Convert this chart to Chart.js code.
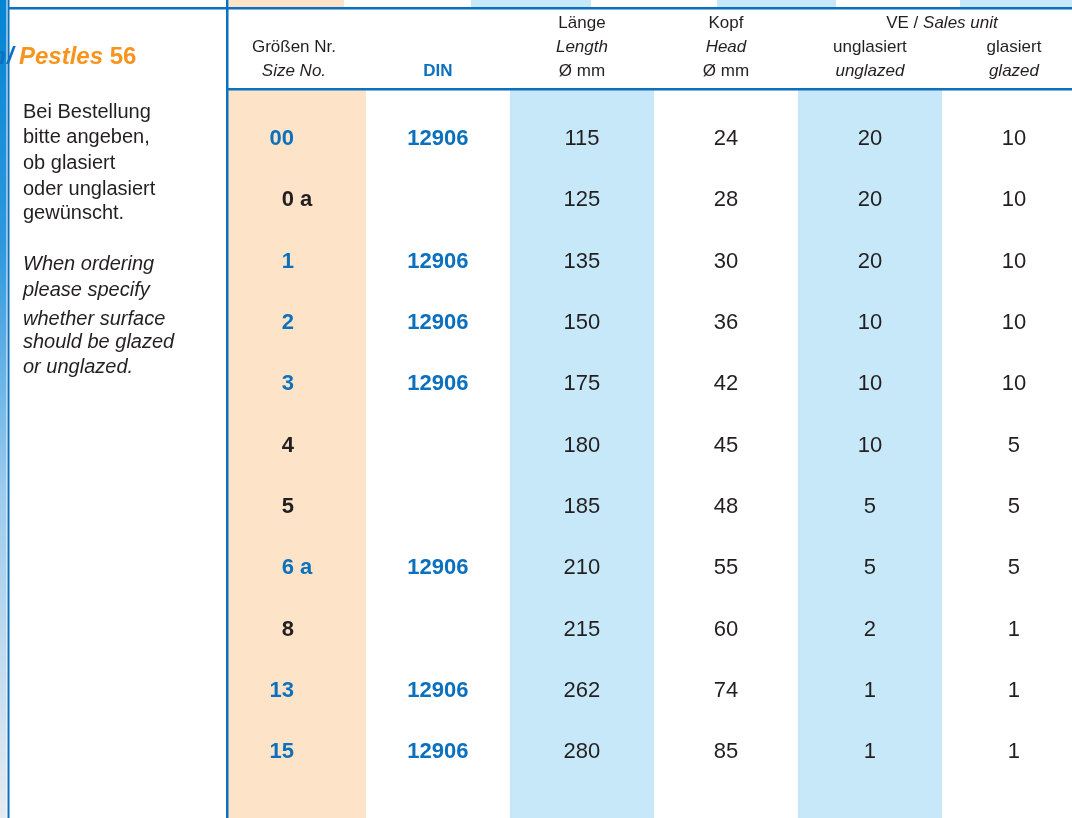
<!DOCTYPE html>
<html lang="de">
<head>
<meta charset="utf-8">
<title>Pestles 56</title>
<script src="https://cdn.jsdelivr.net/npm/chart.js@4.4.1/dist/chart.umd.min.js"></script>
<style>
  html, body { margin: 0; padding: 0; background: #fff; overflow: hidden; }
  canvas { display: block; }
</style>
</head>
<body>
<canvas id="tabelle" width="1072" height="818"></canvas>
<script>
// Zeilen der Tabelle
const groessen = ["00", "0 a", "1", "2", "3", "4", "5", "6 a", "8", "13", "15"];
const din = ["12906", "", "12906", "12906", "12906", "", "", "12906", "", "12906", "12906"];
const laenge = [115, 125, 135, 150, 175, 180, 185, 210, 215, 262, 280];
const kopf = [24, 28, 30, 36, 42, 45, 48, 55, 60, 74, 85];
const unglasiert = [20, 20, 20, 10, 10, 10, 5, 5, 2, 1, 1];
const glasiert = [10, 10, 10, 10, 10, 5, 5, 5, 1, 1, 1];

const spalten = [groessen, din, laenge, kopf, unglasiert, glasiert];

// Kopfzeilen je Spalte: [Text, kursiv?]
const kopfGroesse = [["Größen Nr.", false], ["Size No.", true]];
const kopfLaenge = [["Länge", false], ["Length", true], ["Ø mm", false]];
const kopfKopf = [["Kopf", false], ["Head", true], ["Ø mm", false]];
const kopfUnglasiert = [["unglasiert", false], ["unglazed", true]];
const kopfGlasiert = [["glasiert", false], ["glazed", true]];

const BLAU = '#0b70bd';
const TEXT = '#231f20';
const ORANGE = '#f7941d';
const PFIRSICH = '#fde4c8';
const HELLBLAU = '#c7e8f8';
const SCHRIFT = '"Liberation Sans", Arial, Helvetica, sans-serif';

// farbige Spalten im Tabellenkörper
const streifen = [[0, PFIRSICH], [2, HELLBLAU], [4, HELLBLAU]];

const tabellePlugin = {
  id: 'tabelle',
  beforeDatasetsDraw(chart) {
    const { ctx, chartArea: a, scales: { x } } = chart;
    ctx.save();
    streifen.forEach(([s, farbe]) => {
      const l = Math.max(a.left, x.getPixelForValue(s - 0.5));
      const r = Math.min(a.right, x.getPixelForValue(s + 0.5));
      ctx.fillStyle = farbe;
      ctx.fillRect(l, a.top, r - l, a.bottom - a.top);
    });
    ctx.restore();
  },
  afterDatasetsDraw(chart) {
    const ctx = chart.ctx;
    ctx.save();
    ctx.textBaseline = 'middle';
    chart.data.datasets.forEach((ds, i) => {
      const meta = chart.getDatasetMeta(i);
      meta.data.forEach((pt, r) => {
        const t = ds.texte[r];
        if (!t) return;
        if (i === 0) {
          // Nummer rechtsbündig an der Spaltenmitte, Zusatz dahinter
          ctx.font = 'bold 22px ' + SCHRIFT;
          ctx.fillStyle = din[r] ? BLAU : TEXT;
          const teile = t.split(' ');
          ctx.textAlign = 'right';
          ctx.fillText(teile[0], pt.x, pt.y);
          if (teile[1]) {
            ctx.textAlign = 'left';
            ctx.fillText(' ' + teile[1], pt.x, pt.y);
          }
        } else if (i === 1) {
          ctx.font = 'bold 22px ' + SCHRIFT;
          ctx.fillStyle = BLAU;
          ctx.textAlign = 'center';
          ctx.fillText(t, pt.x, pt.y);
        } else {
          ctx.font = '22px ' + SCHRIFT;
          ctx.fillStyle = TEXT;
          ctx.textAlign = 'center';
          ctx.fillText(t, pt.x, pt.y);
        }
      });
    });
    ctx.restore();
  },
  afterDraw(chart) {
    const { ctx, chartArea: a, scales: { x } } = chart;
    const W = chart.width, H = chart.height;
    ctx.save();

    // Reste der Tabelle darüber
    [[229, 344, PFIRSICH], [471, 591, HELLBLAU], [717, 836, HELLBLAU], [960, 1072, HELLBLAU]].forEach(([l, r, f]) => {
      ctx.fillStyle = f;
      ctx.fillRect(l, 0, r - l, 7);
    });

    // linker Rand
    const g = ctx.createLinearGradient(0, 0, 0, H);
    g.addColorStop(0, '#0484d2');
    g.addColorStop(0.3, '#2e98de');
    g.addColorStop(0.6, '#9ccbee');
    g.addColorStop(1, '#e6ebf1');
    ctx.fillStyle = g;
    ctx.fillRect(0, 0, 6.5, H);

    // Linien
    ctx.fillStyle = BLAU;
    ctx.fillRect(7.5, 0, 2, H);
    ctx.fillRect(226, 0, 2.5, H);
    ctx.fillRect(8, 7, W - 8, 2.5);
    ctx.fillRect(226, 88, W - 226, 2.5);

    // Kopfzeile
    ctx.textBaseline = 'middle';
    ctx.textAlign = 'center';
    const zeilenY = [23, 47, 71];
    const kopfText = (zeilen, s, start) => {
      const cx = x.getPixelForValue(s);
      zeilen.forEach(([t, kursiv], k) => {
        ctx.font = (kursiv ? 'italic ' : '') + '17px ' + SCHRIFT;
        ctx.fillStyle = TEXT;
        ctx.fillText(t, cx, zeilenY[start + k]);
      });
    };
    kopfText(kopfGroesse, 0, 1);
    kopfText(kopfLaenge, 2, 0);
    kopfText(kopfKopf, 3, 0);
    kopfText(kopfUnglasiert, 4, 1);
    kopfText(kopfGlasiert, 5, 1);

    ctx.font = 'bold 17px ' + SCHRIFT;
    ctx.fillStyle = BLAU;
    ctx.fillText('DIN', x.getPixelForValue(1), zeilenY[2]);

    // VE / Sales unit über den beiden letzten Spalten
    const veX = x.getPixelForValue(4.5);
    ctx.font = '17px ' + SCHRIFT;
    const w1 = ctx.measureText('VE / ').width;
    ctx.font = 'italic 17px ' + SCHRIFT;
    const w2 = ctx.measureText('Sales unit').width;
    let sx = veX - (w1 + w2) / 2;
    ctx.textAlign = 'left';
    ctx.fillStyle = TEXT;
    ctx.font = '17px ' + SCHRIFT;
    ctx.fillText('VE / ', sx, zeilenY[0]);
    ctx.font = 'italic 17px ' + SCHRIFT;
    ctx.fillText('Sales unit', sx + w1, zeilenY[0]);

    // Titel links
    ctx.font = 'bold italic 24px ' + SCHRIFT;
    ctx.fillStyle = BLAU;
    ctx.textAlign = 'right';
    ctx.fillText('n', 6, 57);
    ctx.textAlign = 'left';
    ctx.fillText('/', 7, 57);
    ctx.fillStyle = ORANGE;
    ctx.fillText('Pestles', 19, 57);
    const pw = ctx.measureText('Pestles ').width;
    ctx.font = 'bold 24px ' + SCHRIFT;
    ctx.fillText('56', 19 + pw, 57);

    // Hinweistext
    ctx.fillStyle = TEXT;
    ctx.font = '20px ' + SCHRIFT;
    [['Bei Bestellung', 112], ['bitte angeben,', 137], ['ob glasiert', 163], ['oder unglasiert', 189], ['gewünscht.', 213]]
      .forEach(([t, y]) => ctx.fillText(t, 23, y));
    ctx.font = 'italic 20px ' + SCHRIFT;
    [['When ordering', 264], ['please specify', 290], ['whether surface', 319], ['should be glazed', 342], ['or unglazed.', 367]]
      .forEach(([t, y]) => ctx.fillText(t, 23, y));

    ctx.restore();
  }
};

new Chart(document.getElementById('tabelle'), {
  type: 'scatter',
  data: {
    datasets: spalten.map((werte, s) => ({
      label: 'Spalte ' + s,
      data: werte.map((w, r) => ({ x: s, y: r })),
      texte: werte.map(String),
      pointRadius: 0,
      pointHoverRadius: 0,
      showLine: false
    }))
  },
  options: {
    responsive: false,
    animation: false,
    devicePixelRatio: 1,
    layout: { padding: { left: 228, top: 90, right: 0, bottom: 0 } },
    plugins: { legend: { display: false }, tooltip: { enabled: false } },
    scales: {
      x: { type: 'linear', display: false, min: -0.458, max: 5.403 },
      y: { type: 'linear', display: false, reverse: true, min: -0.8, max: 11.076 }
    }
  },
  plugins: [tabellePlugin]
});
</script>
</body>
</html>
